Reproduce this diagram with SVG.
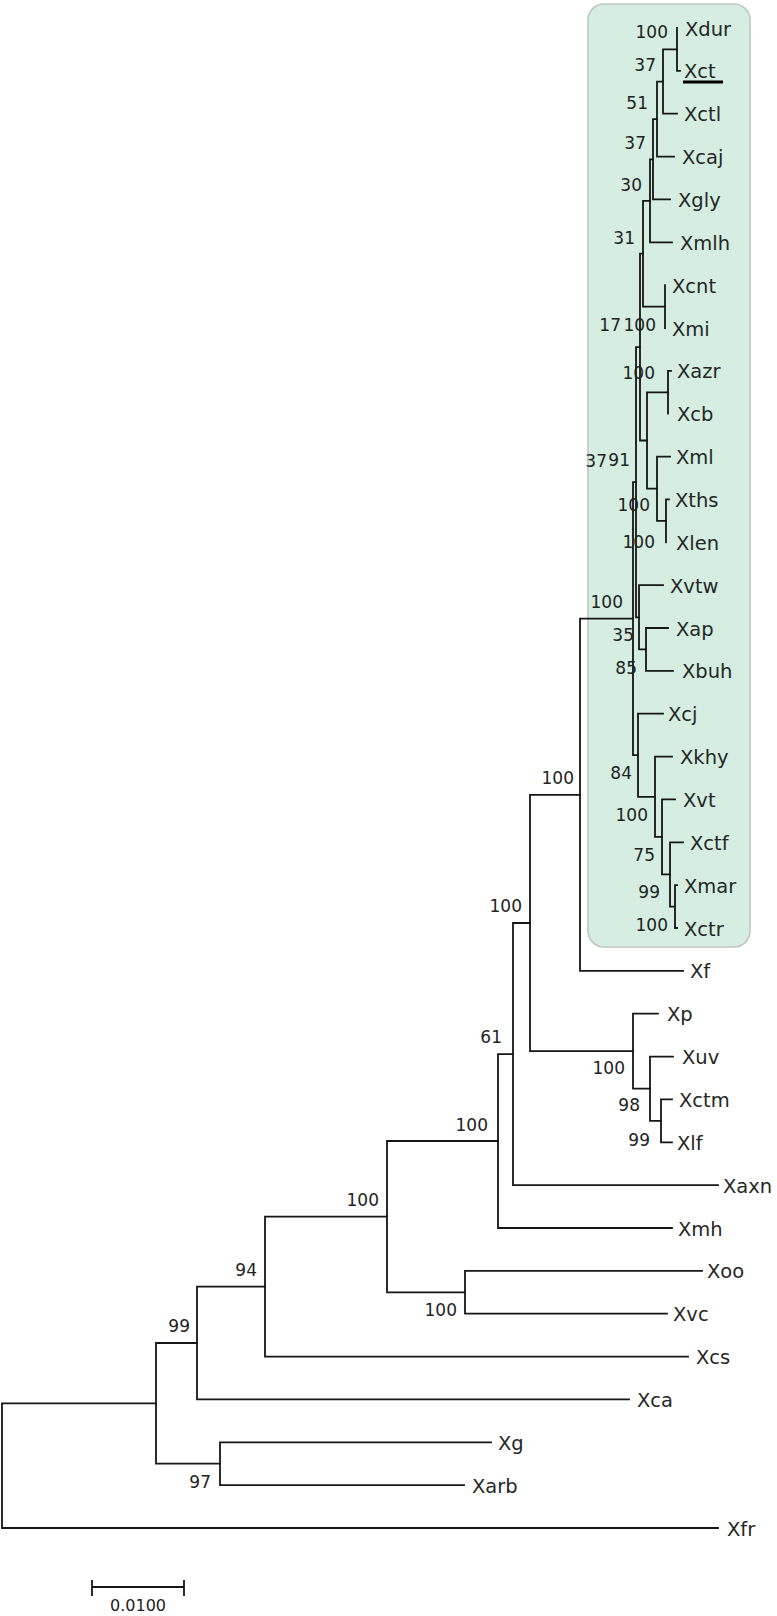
<svg xmlns="http://www.w3.org/2000/svg" width="777" height="1616" viewBox="0 0 777 1616">
<style>
.br{fill:none;stroke:#161616;stroke-width:1.8;stroke-linecap:square}
.lf{font-family:"DejaVu Sans",sans-serif;font-size:19.5px;fill:#262626}
.bs{font-family:"DejaVu Sans",sans-serif;font-size:17px;fill:#222;text-anchor:end}
.sc{font-family:"DejaVu Sans",sans-serif;font-size:16px;fill:#222;text-anchor:middle}
</style>
<rect x="0" y="0" width="777" height="1616" fill="#ffffff"/>
<rect id="clade-box" x="588" y="4" width="162" height="943" rx="16" ry="16" fill="#d5eee1" stroke="#bfc7c2" stroke-width="1.6"/>
<g id="connectors">
<path class="br" d="M677 28 V70.9 H680"/>
<path class="br" d="M677 49.4 H663 V113.7 H677"/>
<path class="br" d="M663 81.6 H657 V156.6 H674"/>
<path class="br" d="M657 119.1 H653 V199.4 H670"/>
<path class="br" d="M653 159.3 H650 V242.3 H672"/>
<path class="br" d="M665 285.1 V328"/>
<path class="br" d="M650 200.8 H643 V306.6 H665"/>
<path class="br" d="M671 370.9 H668 V413.7"/>
<path class="br" d="M669 499.4 H666 V542.3"/>
<path class="br" d="M670 456.6 H657 V520.9 H666"/>
<path class="br" d="M668 392.3 H647 V488.7 H657"/>
<path class="br" d="M643 253.7 H640 V440.5 H647"/>
<path class="br" d="M668 628 H646 V670.9 H673"/>
<path class="br" d="M663 585.1 H639 V649.4 H646"/>
<path class="br" d="M640 347.1 H636 V617.3 H639"/>
<path class="br" d="M677 885.1 H675 V928 H677"/>
<path class="br" d="M683 842.3 H670 V906.6 H675"/>
<path class="br" d="M675 799.4 H662 V874.4 H670"/>
<path class="br" d="M672 756.6 H655 V836.9 H662"/>
<path class="br" d="M663 713.7 H638 V796.8 H655"/>
<path class="br" d="M636 482.2 H633 V755.2 H638"/>
<path class="br" d="M633 618.7 H580 V970.9 H683"/>
<path class="br" d="M672 1099.4 H661 V1142.3 H672"/>
<path class="br" d="M673 1056.6 H650 V1120.9 H661"/>
<path class="br" d="M658 1013.7 H633 V1088.7 H650"/>
<path class="br" d="M580 794.8 H530 V1051.2 H633"/>
<path class="br" d="M530 923 H513 V1185.1 H718"/>
<path class="br" d="M513 1054.1 H498 V1228 H672"/>
<path class="br" d="M702 1270.9 H465 V1313.7 H667"/>
<path class="br" d="M498 1141 H387 V1292.3 H465"/>
<path class="br" d="M387 1216.7 H265 V1356.6 H688"/>
<path class="br" d="M265 1286.6 H197 V1399.4 H629"/>
<path class="br" d="M491 1442.3 H220 V1485.1 H464"/>
<path class="br" d="M197 1343 H156 V1463.7 H220"/>
<path class="br" d="M156 1403.4 H2 V1528 H718"/>
</g>
<g id="leaves">
<g id="n-Xdur"><text class="lf" x="685" y="35.5">Xdur</text></g>
<g id="n-Xct"><text class="lf" x="684" y="78.4">Xct</text><line x1="683" y1="82" x2="723" y2="82" stroke="#000" stroke-width="3"/></g>
<g id="n-Xctl"><text class="lf" x="684" y="121.2">Xctl</text></g>
<g id="n-Xcaj"><text class="lf" x="682" y="164.1">Xcaj</text></g>
<g id="n-Xgly"><text class="lf" x="678" y="206.9">Xgly</text></g>
<g id="n-Xmlh"><text class="lf" x="680" y="249.8">Xmlh</text></g>
<g id="n-Xcnt"><text class="lf" x="672" y="292.6">Xcnt</text></g>
<g id="n-Xmi"><text class="lf" x="672" y="335.5">Xmi</text></g>
<g id="n-Xazr"><text class="lf" x="677" y="378.4">Xazr</text></g>
<g id="n-Xcb"><text class="lf" x="677" y="421.2">Xcb</text></g>
<g id="n-Xml"><text class="lf" x="676" y="464.1">Xml</text></g>
<g id="n-Xths"><text class="lf" x="675" y="506.9">Xths</text></g>
<g id="n-Xlen"><text class="lf" x="676" y="549.8">Xlen</text></g>
<g id="n-Xvtw"><text class="lf" x="670" y="592.6">Xvtw</text></g>
<g id="n-Xap"><text class="lf" x="676" y="635.5">Xap</text></g>
<g id="n-Xbuh"><text class="lf" x="682" y="678.4">Xbuh</text></g>
<g id="n-Xcj"><text class="lf" x="668" y="721.2">Xcj</text></g>
<g id="n-Xkhy"><text class="lf" x="680" y="764.1">Xkhy</text></g>
<g id="n-Xvt"><text class="lf" x="683" y="806.9">Xvt</text></g>
<g id="n-Xctf"><text class="lf" x="690" y="849.8">Xctf</text></g>
<g id="n-Xmar"><text class="lf" x="684" y="892.6">Xmar</text></g>
<g id="n-Xctr"><text class="lf" x="684" y="935.5">Xctr</text></g>
<g id="n-Xf"><text class="lf" x="690" y="978.4">Xf</text></g>
<g id="n-Xp"><text class="lf" x="667" y="1021.2">Xp</text></g>
<g id="n-Xuv"><text class="lf" x="682" y="1064.1">Xuv</text></g>
<g id="n-Xctm"><text class="lf" x="679" y="1106.9">Xctm</text></g>
<g id="n-Xlf"><text class="lf" x="677" y="1149.8">Xlf</text></g>
<g id="n-Xaxn"><text class="lf" x="723" y="1192.6">Xaxn</text></g>
<g id="n-Xmh"><text class="lf" x="678" y="1235.5">Xmh</text></g>
<g id="n-Xoo"><text class="lf" x="707" y="1278.4">Xoo</text></g>
<g id="n-Xvc"><text class="lf" x="673" y="1321.2">Xvc</text></g>
<g id="n-Xcs"><text class="lf" x="696" y="1364.1">Xcs</text></g>
<g id="n-Xca"><text class="lf" x="637" y="1406.9">Xca</text></g>
<g id="n-Xg"><text class="lf" x="498" y="1449.8">Xg</text></g>
<g id="n-Xarb"><text class="lf" x="472" y="1492.6">Xarb</text></g>
<g id="n-Xfr"><text class="lf" x="727" y="1535.5">Xfr</text></g>
</g>
<g id="bootstrap">
<text class="bs" x="668" y="38">100</text>
<text class="bs" x="656" y="71">37</text>
<text class="bs" x="648" y="109">51</text>
<text class="bs" x="646" y="149">37</text>
<text class="bs" x="642" y="191">30</text>
<text class="bs" x="635" y="244">31</text>
<text class="bs" x="656" y="331">100</text>
<text class="bs" x="621" y="331">17</text>
<text class="bs" x="655" y="379">100</text>
<text class="bs" x="607" y="467">37</text>
<text class="bs" x="630" y="466">91</text>
<text class="bs" x="650" y="511">100</text>
<text class="bs" x="655" y="548">100</text>
<text class="bs" x="623" y="608">100</text>
<text class="bs" x="634" y="641">35</text>
<text class="bs" x="637" y="674">85</text>
<text class="bs" x="632" y="779">84</text>
<text class="bs" x="648" y="821">100</text>
<text class="bs" x="655" y="861">75</text>
<text class="bs" x="660" y="898">99</text>
<text class="bs" x="668" y="931">100</text>
<text class="bs" x="574" y="784">100</text>
<text class="bs" x="522" y="912">100</text>
<text class="bs" x="502" y="1043">61</text>
<text class="bs" x="625" y="1074">100</text>
<text class="bs" x="640" y="1111">98</text>
<text class="bs" x="650" y="1146">99</text>
<text class="bs" x="488" y="1131">100</text>
<text class="bs" x="457" y="1316">100</text>
<text class="bs" x="379" y="1206">100</text>
<text class="bs" x="257" y="1276">94</text>
<text class="bs" x="190" y="1332">99</text>
<text class="bs" x="211" y="1488">97</text>
</g>
<g id="scale-bar">
<path class="br" d="M92 1587 H184 M92 1581 V1595 M184 1581 V1595"/>
<text class="sc" x="138" y="1611">0.0100</text>
</g>
</svg>
